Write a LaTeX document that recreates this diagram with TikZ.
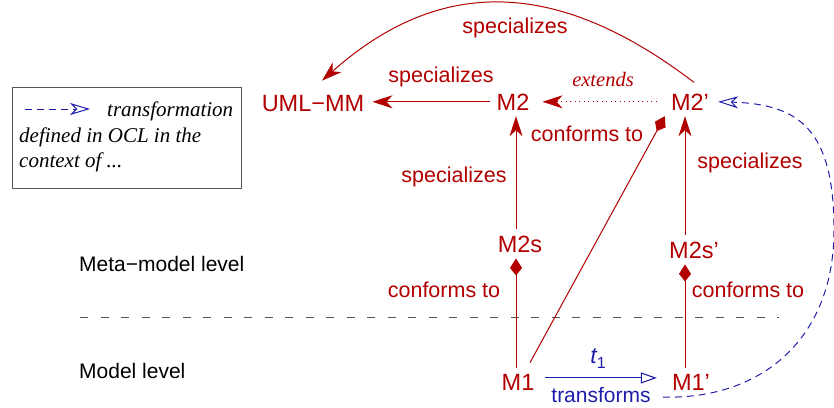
\documentclass[tikz,border=0pt]{standalone}
\usepackage{fontspec}
\setmainfont{Liberation Serif}
\setsansfont{Liberation Sans}
\usetikzlibrary{arrows.meta}
\definecolor{dred}{RGB}{178,0,0}
\definecolor{dblue}{RGB}{30,30,170}
\definecolor{lgray}{RGB}{85,85,85}
\begin{document}
\begin{tikzpicture}[x=1pt,y=-1pt,
  mnode/.style={text=dred, font=\sffamily\fontsize{23.5}{27}\selectfont, inner sep=6pt, anchor=base},
  elabel/.style={text=dred, font=\sffamily\fontsize{21.5}{25}\selectfont, inner sep=0pt},
  lvl/.style={font=\sffamily\fontsize{21}{24}\selectfont, anchor=base west, inner sep=0pt},
  legtxt/.style={font=\rmfamily\itshape\fontsize{21}{25}\selectfont, anchor=base west, inner sep=0pt},
  spec/.style={draw=dred, line width=1pt, -{Stealth[length=20pt,width=13pt,inset=6pt]}},
  conf/.style={draw=dred, line width=1pt, -{Kite[length=17pt,width=12pt,inset=7.5pt]}},
  trans/.style={draw=dblue, line width=1.1pt, -{Triangle[open,length=16pt,width=11pt]}},
  ctx/.style={draw=dblue, line width=1pt, dash pattern=on 7pt off 5pt, -{Stealth[open,length=20pt,width=12pt,inset=6pt]}},
  sepline/.style={draw=lgray, line width=1pt, dash pattern=on 8pt off 12.5pt}
 ]
\useasboundingbox (0,0) rectangle (834,407);

% legend
\node[draw=lgray, line width=1pt, minimum width=229pt, minimum height=101pt, anchor=north west, inner sep=0pt] (legend) at (12,87) {};
\coordinate (la) at (25,109);
\coordinate (lb) at (90,109);
\draw[ctx] (la) -- (lb);
\node[legtxt] (leg1) at (107,116) {transformation};
\node[legtxt] (leg2) at (19,142) {defined in OCL in the};
\node[legtxt] (leg3) at (19,167) {context of ...};

% level labels
\node[lvl] (meta) at (79,271) {Meta−model level};
\node[lvl] (model) at (79,378) {Model level};
\coordinate (sepL) at (80,317);
\coordinate (sepR) at (779,317);
\draw[sepline] (sepL) -- (sepR);

% model nodes
\node[mnode] (uml) at (313,111) {UML−MM};
\node[mnode] (m2) at (513,110) {M2};
\node[mnode] (m2p) at (690,110) {M2’};
\node[mnode] (m2s) at (520,252) {M2s};
\node[mnode] (m2sp) at (694,258) {M2s’};
\node[mnode] (m1) at (518,390) {M1};
\node[mnode] (m1p) at (691,390) {M1’};
\coordinate (colL) at (516,0);
\coordinate (colR) at (685,0);

% connectors
\draw[spec, shorten >=2pt] (m2.west) -- (m2.west -| uml.east);
\draw[spec, dash pattern=on 1pt off 3.5pt, shorten <=8pt, shorten >=7pt] (m2p.west) -- (m2.east);
\draw[spec] ([xshift=4pt,yshift=5pt]m2p.north) .. controls (560,-20) and (442,-26) .. ([xshift=9pt,yshift=8pt]uml.north);
\draw[spec] (m2s.north -| colL) -- (m2.south -| colL);
\draw[spec] (m2sp.north -| colR) -- (m2p.south -| colR);
\draw[conf] (m1.north -| colL) -- (m2s.south -| colL);
\draw[conf] (m1p.north -| colR) -- (m2sp.south -| colR);
\draw[conf] ([xshift=12pt,yshift=5pt]m1.north) -- (m2p.south west);
\draw[trans, shorten >=9pt, shorten <=4pt] ([yshift=4pt]m1.east) -- ([yshift=4pt]m1p.west);

% transformation labels
\node[text=dblue, font=\sffamily\fontsize{23}{26}\selectfont, inner sep=0pt] (t1) at (598,359) {\itshape t\raisebox{-5pt}{\upshape\fontsize{16}{16}\selectfont 1}};
\node[text=dblue, font=\sffamily\fontsize{21}{24}\selectfont, inner sep=0pt] (tr) at (601,395) {transforms};
\draw[ctx] ([xshift=12pt,yshift=-2pt]tr.east) .. controls (760,400) and (834,340) .. (834,230) .. controls (834,130) and (800,104) .. ([xshift=3pt]m2p.east);

% edge labels
\node[elabel] (lspec1) at (515,28) {specializes};
\node[elabel] (lspec2) at (441,77) {specializes};
\node[elabel, font=\rmfamily\itshape\fontsize{20.5}{24}\selectfont] (lext) at (603,79) {extends};
\node[elabel] (lconf1) at (587,134) {conforms to};
\node[elabel] (lspec3) at (454,177) {specializes};
\node[elabel] (lspec4) at (750,163) {specializes};
\node[elabel] (lconf2) at (444,290) {conforms to};
\node[elabel] (lconf3) at (748,290) {conforms to};
\end{tikzpicture}
\end{document}
